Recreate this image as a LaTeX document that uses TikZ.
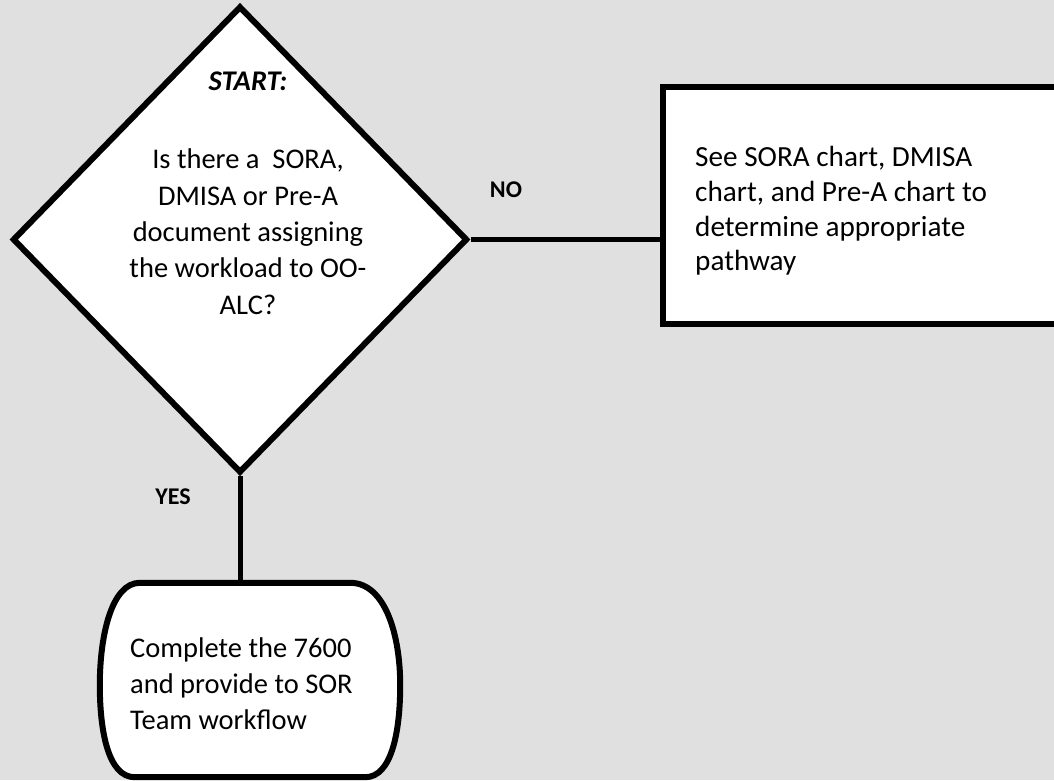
\documentclass[tikz,border=0pt]{standalone}
\usepackage{fontspec}
\setmainfont{Carlito}
\usetikzlibrary{shapes.geometric,calc}
\definecolor{pagebg}{HTML}{E0E0E0}
\begin{document}
\begin{tikzpicture}[x=1pt,y=-1pt,
  shapeline/.style={draw=black,line width=6pt,fill=white},
  link/.style={draw=black,line width=5pt},
  bodytext/.style={inner sep=0pt,font=\fontsize{28.5}{36.3}\selectfont},
  flaglabel/.style={inner sep=0pt,font=\fontsize{24}{28}\selectfont\bfseries}]
  % page
  \fill[pagebg] (0,0) rectangle (1054,780);
  \useasboundingbox (0,0) rectangle (1054,780);

  % decision
  \node[diamond,shapeline,inner sep=0pt,minimum width=455pt,minimum height=467pt,
        line join=miter] (dec) at (240,239.5) {};
  \node[bodytext,anchor=north,font=\fontsize{28.5}{36.3}\selectfont\bfseries\itshape] (start) at (248,72) {START:};
  \node[bodytext,anchor=north,align=center] (question) at (248,149)
    {Is there a \ SORA,\\DMISA or Pre-A\\document assigning\\the workload to OO-\\ALC?};

  % other charts box (runs off the right edge)
  \node[rectangle,shapeline,inner sep=0pt,minimum width=420pt,minimum height=237pt,
        line join=miter] (charts) at (873,205.5) {};
  \node[bodytext,anchor=north west,align=left,font=\fontsize{29.2}{34.8}\selectfont] (chartstext) at (695,146)
    {See SORA chart, DMISA\\chart, and Pre-A chart to\\determine appropriate\\pathway};

  % terminator
  \node[rectangle,inner sep=0pt,minimum width=300pt,minimum height=194pt] (term) at (250,680) {};
  \draw[shapeline]
    ($(term.north west)+(40,0)$) -- ($(term.north east)+(-50,0)$)
    .. controls ($(term.north east)+(-15,0)$) and ($(term.east)+(0,-45)$) .. ($(term.east)+(0,5)$)
    .. controls ($(term.east)+(0,50)$) and ($(term.south east)+(-8,0)$) .. ($(term.south east)+(-35,0)$)
    -- ($(term.south west)+(35,0)$)
    .. controls ($(term.south west)+(8,0)$) and ($(term.west)+(0,50)$) .. ($(term.west)+(0,5)$)
    .. controls ($(term.west)+(0,-45)$) and ($(term.north west)+(12,0)$) .. ($(term.north west)+(40,0)$)
    -- cycle;
  \node[bodytext,anchor=north west,align=left,font=\fontsize{28.5}{36}\selectfont] (termtext) at (130,637)
    {Complete the 7600\\and provide to SOR\\Team workflow};

  % connectors
  \draw[link] (dec.east) -- (dec.east -| charts.west);
  \draw[link] (dec.south) -- (dec.south |- term.north);

  % branch labels
  \node[flaglabel] (nolabel) at (506,190) {NO};
  \node[flaglabel] (yeslabel) at (173,497) {YES};
\end{tikzpicture}
\end{document}
